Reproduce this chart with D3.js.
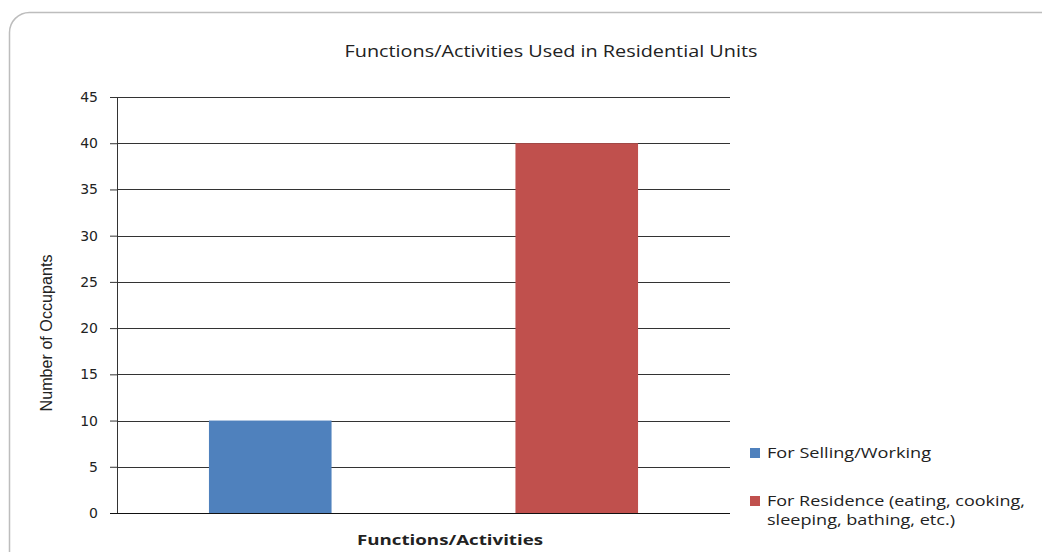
<!DOCTYPE html>
<html>
<head>
<meta charset="utf-8">
<script src="https://cdn.jsdelivr.net/npm/d3@7"></script>
<style>
  body { margin: 0; background: #fff; }
  text { fill: #222; }
</style>
</head>
<body>
<div id="chart"></div>
<script>
// data
const categories = ["For Selling/Working", "For Residence (eating, cooking, sleeping, bathing, etc.)"];
const occupants = [10, 40];
const barColors = ["#4f81bd", "#c0504d"];
const yTicks = [0, 5, 10, 15, 20, 25, 30, 35, 40, 45];
const legendLines = [["For Selling/Working"], ["For Residence (eating, cooking,", "sleeping, bathing, etc.)"]];
const legendWidths = [[164], [258, 188]];

const svgWidth = 1042;
const svgHeight = 552;
const margin = { top: 97, right: 312, bottom: 39, left: 117 };
const width = svgWidth - margin.left - margin.right;
const height = svgHeight - margin.top - margin.bottom;

const svg = d3.select("#chart")
  .append("svg")
  .attr("width", svgWidth)
  .attr("height", svgHeight);

// outer rounded frame
svg.append("rect")
  .attr("x", 9.5).attr("y", 12.5)
  .attr("width", 1052).attr("height", 600)
  .attr("rx", 20).attr("ry", 20)
  .attr("fill", "none")
  .attr("stroke", "#bdbdbd")
  .attr("stroke-width", 1.5);

svg.append("text")
  .attr("x", 551).attr("y", 57)
  .attr("text-anchor", "middle")
  .attr("textLength", 413)
  .attr("lengthAdjust", "spacingAndGlyphs")
  .style("font-family", "'Open Sans', sans-serif")
  .style("font-size", "17px")
  .text("Functions/Activities Used in Residential Units");

const chartGroup = svg.append("g")
  .attr("transform", `translate(${margin.left}, ${margin.top})`);

const x = d3.scaleBand()
  .domain(categories)
  .range([0, width])
  .paddingInner(0.6)
  .paddingOuter(0.3);

const y = d3.scaleLinear()
  .domain([0, 45])
  .range([height, 0]);

// gridlines
chartGroup.append("g")
  .selectAll("line")
  .data(yTicks.filter(d => d > 0))
  .enter()
  .append("line")
  .attr("x1", 0).attr("x2", width)
  .attr("y1", d => Math.round(y(d)) + 0.5)
  .attr("y2", d => Math.round(y(d)) + 0.5)
  .attr("stroke", "#333")
  .attr("stroke-width", 1);

// bars
chartGroup.selectAll("rect.bar")
  .data(occupants)
  .enter()
  .append("rect")
  .attr("class", "bar")
  .attr("x", (d, i) => x(categories[i]))
  .attr("y", d => y(d))
  .attr("width", x.bandwidth())
  .attr("height", d => height - y(d))
  .attr("fill", (d, i) => barColors[i]);

// y axis
const leftAxis = d3.axisLeft(y)
  .tickValues(yTicks)
  .tickSize(7)
  .tickPadding(12);

const yAxisG = chartGroup.append("g").call(leftAxis);
yAxisG.select(".domain").attr("stroke", "#333").attr("d", `M0.5,0V${height}`);
yAxisG.selectAll(".tick line").attr("stroke", "#333");
yAxisG.selectAll("text")
  .style("font-family", "'DejaVu Sans', sans-serif")
  .style("font-size", "14px")
  .attr("fill", "#222");

// x baseline
chartGroup.append("line")
  .attr("x1", -7).attr("x2", width)
  .attr("y1", height + 0.5).attr("y2", height + 0.5)
  .attr("stroke", "#111");

// axis titles
svg.append("text")
  .attr("transform", "translate(52, 333) rotate(-90)")
  .attr("text-anchor", "middle")
  .attr("textLength", 157)
  .attr("lengthAdjust", "spacingAndGlyphs")
  .style("font-family", "'Liberation Sans Narrow', 'Liberation Sans', sans-serif")
  .style("font-size", "16px")
  .text("Number of Occupants");

svg.append("text")
  .attr("x", 450).attr("y", 545)
  .attr("text-anchor", "middle")
  .attr("textLength", 186)
  .attr("lengthAdjust", "spacingAndGlyphs")
  .style("font-family", "'Open Sans', sans-serif")
  .style("font-weight", "bold")
  .style("font-size", "15px")
  .text("Functions/Activities");

// legend
const legend = svg.append("g").attr("transform", "translate(750, 0)");
const legendY = [448, 496];
legendLines.forEach((lines, i) => {
  legend.append("rect")
    .attr("x", 0).attr("y", legendY[i])
    .attr("width", 10).attr("height", 10)
    .attr("fill", barColors[i]);
  lines.forEach((line, j) => {
    legend.append("text")
      .attr("x", 17).attr("y", legendY[i] + 10 + j * 19)
      .attr("textLength", legendWidths[i][j])
      .attr("lengthAdjust", "spacingAndGlyphs")
      .style("font-family", "'Open Sans', sans-serif")
      .style("font-size", "15px")
      .text(line);
  });
});
</script>
</body>
</html>
